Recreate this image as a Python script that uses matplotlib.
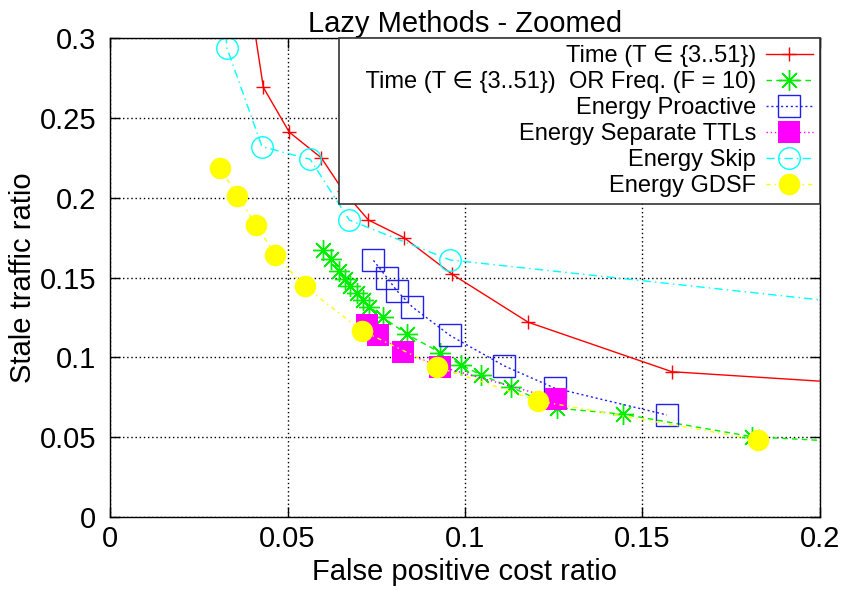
import matplotlib
matplotlib.use("Agg")
import matplotlib.pyplot as plt

plt.rcParams['font.family'] = ['Liberation Sans', 'DejaVu Sans']

# x = false positive cost ratio, y = stale traffic ratio
time_x = [0.039, 0.0432, 0.0505, 0.0595, 0.0658, 0.0728, 0.0828, 0.0964, 0.1178, 0.1583, 0.25]
time_y = [0.330, 0.269, 0.241, 0.225, 0.204, 0.186, 0.175, 0.152, 0.122, 0.091, 0.078]

freq_x = [0.0600, 0.0622, 0.0646, 0.0662, 0.0677, 0.0695, 0.0712, 0.0730, 0.0768,
          0.0836, 0.0930, 0.0988, 0.1045, 0.1131, 0.1258, 0.1445, 0.1809, 0.22]
freq_y = [0.1674, 0.1613, 0.1539, 0.1492, 0.1444, 0.1403, 0.1361, 0.1318, 0.1252,
          0.1145, 0.1030, 0.0953, 0.0890, 0.0813, 0.0682, 0.0644, 0.0503, 0.0456]

proactive_x = [0.0742, 0.0781, 0.0808, 0.0852, 0.0958, 0.1110, 0.1253, 0.1569]
proactive_y = [0.1607, 0.1497, 0.1417, 0.1315, 0.1137, 0.0947, 0.0807, 0.0639]

sep_x = [0.0725, 0.0756, 0.0824, 0.0930, 0.1256]
sep_y = [0.1204, 0.1141, 0.1033, 0.0942, 0.0740]

skip_x = [0.031, 0.0329, 0.0428, 0.0564, 0.0674, 0.0958, 0.30]
skip_y = [0.360, 0.294, 0.232, 0.224, 0.186, 0.161, 0.112]

gdsf_x = [0.0309, 0.0359, 0.0412, 0.0466, 0.0548, 0.0709, 0.0920, 0.1206, 0.1825]
gdsf_y = [0.2188, 0.2013, 0.1826, 0.1643, 0.1444, 0.1168, 0.0942, 0.0727, 0.0483]

x_ticks = [0, 0.05, 0.1, 0.15, 0.2]
x_labels = ['0', '0.05', '0.1', '0.15', '0.2']
y_ticks = [0, 0.05, 0.1, 0.15, 0.2, 0.25, 0.3]
y_labels = ['0', '0.05', '0.1', '0.15', '0.2', '0.25', '0.3']

fig = plt.figure(figsize=(8.49, 5.90), dpi=100)
ax = fig.add_axes([0.1296, 0.1237, 0.8362, 0.8119])

ax.plot(time_x, time_y, color='red', lw=1, ls='-', marker='+', ms=10, mew=1,
        label='Time (T \u2208 {3..51})')
ax.plot(freq_x, freq_y, color='#00ee00', lw=1, ls=(0, (4, 3)), marker=(8, 2, 0), ms=15, mew=1,
        label='   Time (T \u2208 {3..51})  OR Freq. (F = 10)')
ax.plot(proactive_x, proactive_y, color='#2020ee', lw=1, ls=(0, (1.5, 2)), marker='s', ms=15.5,
        mfc='none', mew=1, label='Energy Proactive')
ax.plot(sep_x, sep_y, color='magenta', lw=1, ls=(0, (1, 2)), marker='s', ms=15.5,
        mew=0, label='Energy Separate TTLs')
ax.plot(skip_x, skip_y, color='cyan', lw=1, ls=(0, (6, 3, 1, 3)), marker='o', ms=15.5,
        mfc='none', mew=1, label='Energy Skip')
ax.plot(gdsf_x, gdsf_y, color='yellow', lw=1, ls=(0, (3, 3, 1, 3)), marker='o', ms=15.5,
        mew=0, label='Energy GDSF')

ax.set_xlim(0, 0.2)
ax.set_ylim(0, 0.3)
ax.set_xticks(x_ticks)
ax.set_xticklabels(x_labels)
ax.set_yticks(y_ticks)
ax.set_yticklabels(y_labels)
ax.tick_params(direction='in', length=7, width=1, top=True, right=True, labelsize=21)
ax.tick_params(axis='x', pad=6)
ax.tick_params(axis='y', pad=10)
ax.grid(True, color='black', ls=(0, (1, 2)), lw=1)
ax.set_axisbelow(True)
for s in ax.spines.values():
    s.set_linewidth(1)

ax.set_title('Lazy Methods - Zoomed', fontsize=21, pad=4)
ax.set_xlabel('False positive cost ratio', fontsize=21, labelpad=3)
ax.set_ylabel('Stale traffic ratio', fontsize=21, labelpad=2)

leg = ax.legend(loc='upper right', markerfirst=False, fontsize=17, frameon=True,
                fancybox=False, framealpha=1, edgecolor='#333333', borderaxespad=0,
                handlelength=2.0, handletextpad=0.4, labelspacing=0.17, borderpad=0.3)
leg.get_frame().set_linewidth(1.2)

fig.savefig('out.png', dpi=100)
